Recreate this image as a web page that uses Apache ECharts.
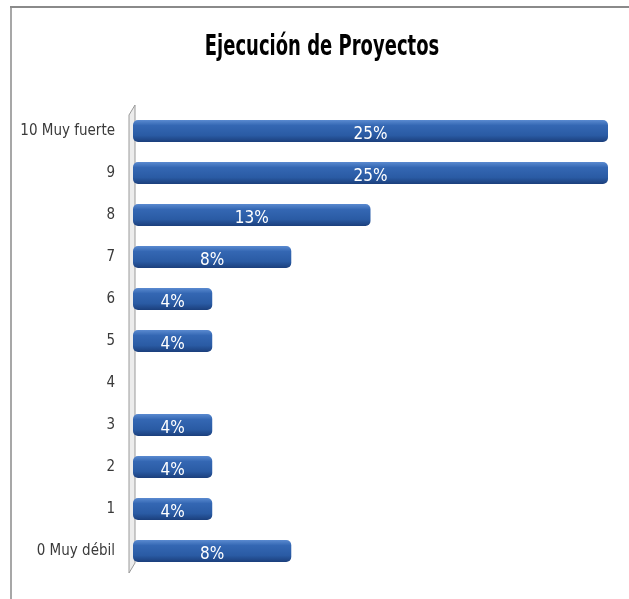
<!DOCTYPE html>
<html>
<head>
<meta charset="utf-8">
<script src="https://cdn.jsdelivr.net/npm/echarts@6/dist/echarts.min.js"></script>
<style>
html,body{margin:0;padding:0;background:#fff;}
#chart{width:629px;height:599px;}
</style>
</head>
<body>
<div id="chart"></div>
<script>
var titleText = 'Ejecución de Proyectos';
var categories = ['0 Muy débil', '1', '2', '3', '4', '5', '6', '7', '8', '9', '10 Muy fuerte'];
var percentValues = [8.33, 4.17, 4.17, 4.17, 0, 4.17, 4.17, 8.33, 12.5, 25, 25];

var FONT = '"DejaVu Sans Condensed", "Liberation Sans", sans-serif';
var chart = echarts.init(document.getElementById('chart'));
var barGradient = new echarts.graphic.LinearGradient(0, 0, 0, 1, [
  {offset: 0, color: '#5a8ad0'},
  {offset: 0.25, color: '#3467b3'},
  {offset: 0.7, color: '#2a5ba4'},
  {offset: 1, color: '#1b3f7c'}
]);
chart.setOption({
  animation: false,
  backgroundColor: '#ffffff',
  grid: {left: 133, right: 21, top: 110, bottom: 27, containLabel: false},
  xAxis: {type: 'value', min: 0, max: 25, show: false},
  yAxis: {
    type: 'category',
    data: categories,
    axisLine: {show: false},
    axisTick: {show: false},
    axisLabel: {margin: 18, color: '#3a3a3a', fontFamily: FONT, fontSize: 15}
  },
  graphic: [
    {type: 'line', shape: {x1: 10, y1: 7, x2: 629, y2: 7}, style: {stroke: '#8a8a8a', lineWidth: 2}, z: 0},
    {type: 'line', shape: {x1: 11, y1: 7, x2: 11, y2: 599}, style: {stroke: '#8a8a8a', lineWidth: 1.5}, z: 0},
    {type: 'polygon', shape: {points: [[129, 115], [135, 105], [135, 563], [129, 573]]},
     style: {fill: '#ececec', stroke: '#9a9a9a', lineWidth: 1}, z: 0},
    {type: 'text', x: 322, y: 47, scaleY: 1.45, z: 10,
     style: {text: titleText, fill: '#000', font: 'bold 20px ' + FONT, textAlign: 'center', textVerticalAlign: 'middle'}}
  ],
  series: [{
    type: 'bar',
    data: percentValues,
    barWidth: 22,
    z: 5,
    itemStyle: {color: barGradient, borderRadius: 5},
    label: {
      show: true,
      position: 'inside',
      offset: [0, 4],
      color: '#fff',
      fontFamily: FONT,
      fontSize: 17,
      formatter: function (p) { return p.value > 0 ? Math.round(p.value) + '%' : ''; }
    }
  }]
});
</script>
</body>
</html>
